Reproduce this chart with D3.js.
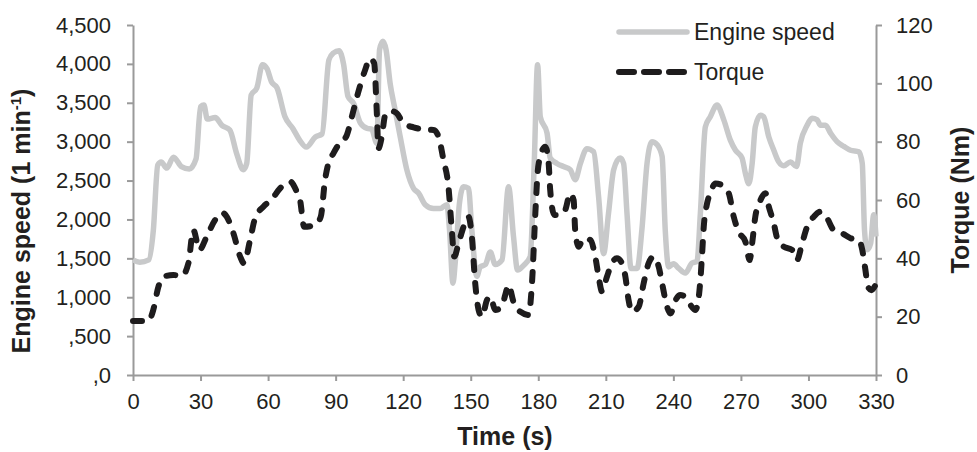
<!DOCTYPE html>
<html>
<head>
<meta charset="utf-8">
<script src="https://cdn.jsdelivr.net/npm/d3@7"></script>
<style>
body { margin: 0; background: #fff; }
text { font-family: Arial, "Liberation Sans", sans-serif; fill: #231f20; }
</style>
</head>
<body>
<svg id="chart" width="977" height="452"></svg>
<script>

// engine speed (1/min) over time (s)
var speedTime = [0, 3, 7, 9, 11, 12.5, 15, 18, 21.5, 25, 28, 30, 31.5, 33, 36.5, 39.5, 43, 46, 49, 50.5,
    52.5, 55, 57.5, 59.5, 61.5, 64, 67.5, 71, 74, 77, 81, 84, 87, 89, 91.5, 93.5, 95.5, 98, 101, 104,
    106, 108.3, 109.5, 111, 112.4, 114.2, 116.4, 118.7, 121.6, 124.6, 126.8, 129.8, 133.5, 136.4, 139.4, 140.6, 142.1, 143.1, 145, 146.8,
    149, 150.5, 152.7, 154.2, 156.5, 158.7, 160.9, 163.9, 166.8, 169, 170.8, 173.5, 176.4, 178.2, 179.7, 180.9, 183.9, 185.3, 188.3, 191.2,
    194.2, 196.4, 198.7, 201.6, 204.6, 206.8, 209, 211.2, 213.5, 216.4, 217.9, 219.4, 221.2, 223.9, 226, 228.3, 230.5, 232.8, 235, 236.4,
    237.9, 240.1, 242.4, 245.3, 248.3, 250.5, 252, 254.2, 256.4, 259.4, 262.4, 265.3, 267.6, 270.5, 272, 273.5, 275, 276.4, 278.7, 280.1,
    282.4, 284.6, 286.8, 289, 292, 294.7, 296.4, 299.4, 301.6, 303.9, 305.3, 307.6, 309.8, 312.7, 315.7, 318.7, 322.4, 323.9, 324.9, 326.1,
    327.6, 329, 330]
var speedValues = [1480, 1450, 1480, 1850, 2700, 2740, 2660, 2800, 2680, 2650, 2780, 3450, 3470, 3290, 3310, 3210, 3150, 2850, 2640, 2720,
    3600, 3690, 3990, 3940, 3770, 3690, 3320, 3170, 3020, 2930, 3060, 3100, 4050, 4140, 4170, 4000, 3580, 3490, 3240, 3170,
    3160, 2980, 4180, 4290, 4180, 3750, 3410, 3060, 2640, 2400, 2340, 2190, 2140, 2140, 2190, 1860, 1180, 1440, 2210, 2420,
    2400, 1860, 1270, 1390, 1420, 1580, 1420, 1480, 2420, 1780, 1350, 1410, 1520, 2720, 3990, 3320, 3110, 2790, 2720, 2680,
    2640, 2510, 2720, 2910, 2870, 2290, 1560, 2080, 2640, 2790, 2720, 2080, 1370, 1370, 1860, 2720, 3000, 2960, 2810, 1860,
    1390, 1430, 1370, 1310, 1440, 1460, 2080, 3190, 3320, 3470, 3280, 3020, 2890, 2790, 2590, 2460, 2720, 3190, 3340, 3320,
    3060, 2890, 2740, 2690, 2740, 2680, 2980, 3210, 3300, 3280, 3210, 3210, 3110, 3000, 2940, 2890, 2870, 2720, 1860, 1610,
    1690, 2060, 1780]

// torque (Nm) over time (s)
var torqueTime = [0, 6.8, 9, 11.3, 13.5, 17.9, 21.6, 24.6, 26.8, 29.5, 32.7, 36.4, 39.4, 41.6, 44.6, 47.6, 49.3, 52, 54.2, 57.9,
    61.6, 65.3, 69.8, 72.7, 74.2, 76, 80.9, 83.4, 85.3, 86.8, 89, 91.2, 95, 97.2, 100.1, 103.1, 105.3, 107.1, 108.3, 109,
    110.5, 112, 114.2, 117.2, 120.1, 124.6, 129, 133.5, 135.7, 137.9, 140.1, 141.6, 142.7, 144.6, 146.8, 149, 150.5, 152, 153.5, 155,
    157.2, 158.7, 160.9, 163.9, 165.3, 166.8, 169, 172, 175.7, 177.2, 178.7, 179.7, 180.9, 183.1, 184.6, 185.3, 187.1, 189.8, 192, 194.2,
    195.7, 196.4, 197.9, 200.1, 203.1, 205.3, 206.8, 208.3, 210.5, 212.7, 214.9, 217.2, 218.7, 220.1, 221.6, 224.6, 226.8, 229, 231.3, 233.5,
    235, 237.2, 238.7, 241, 243.1, 245.3, 247.6, 249.8, 251.3, 252, 252.7, 253.5, 255, 256.4, 258.7, 261.6, 264.6, 266.8, 269, 272,
    273.9, 275, 276.4, 278.7, 280.9, 282.4, 284.6, 286.1, 289, 292.7, 294.9, 297.2, 299.4, 302.4, 305.3, 308.3, 311.2, 314.9, 318.7, 322.4,
    323.9, 325.3, 326.4, 327.9, 329.8]
var torqueValues = [18.5, 18.5, 22.3, 30.3, 33.7, 34.3, 33.9, 38.3, 49.7, 42.9, 47.4, 53.1, 55.7, 54.3, 48.6, 40.6, 38.3, 46.3, 53.7, 57.7,
    60.2, 64, 66.3, 62.9, 60, 50.8, 51.4, 54.3, 66.9, 72.6, 76, 78.9, 82.3, 88.6, 97.1, 104.6, 108.6, 106.9, 89.7, 77.7,
    81.7, 89.1, 90.6, 89.7, 86.3, 84.9, 84.2, 84, 81.7, 73.7, 64.6, 49.7, 40.6, 45.2, 50.8, 54.3, 47.4, 31.4, 22.3, 20,
    25.7, 26.9, 22.3, 23.4, 27.4, 30.9, 25.1, 21.7, 20.6, 31.4, 55.4, 69.2, 74.9, 78.3, 72.6, 63.4, 54.9, 54.9, 56.6, 62.3,
    60, 49.7, 44, 46.9, 46.3, 40.6, 33.7, 28.6, 33.7, 38.3, 40, 38.3, 33.7, 25.7, 21.7, 23.4, 31.4, 38.3, 40.6, 37.1,
    31.4, 23.4, 21.1, 25.7, 27.4, 26.9, 24, 22.3, 26.9, 32.6, 40.6, 50.8, 58.9, 62.3, 65.7, 65.1, 62.3, 54.3, 49.1, 45.7,
    39.4, 45.2, 54.3, 60, 62.3, 57.7, 52, 46.9, 44, 42.9, 39.4, 45.2, 50.8, 54.3, 56, 53.7, 49.7, 48.6, 46.9, 46.3,
    42.9, 36, 30.3, 29.1, 30.9]

var timeTicks = [0, 30, 60, 90, 120, 150, 180, 210, 240, 270, 300, 330]
var speedTicks = [0, 500, 1000, 1500, 2000, 2500, 3000, 3500, 4000, 4500]
var speedTickLabels = [',0', ',500', '1,000', '1,500', '2,000', '2,500', '3,000', '3,500', '4,000', '4,500']
var torqueTicks = [0, 20, 40, 60, 80, 100, 120]
var seriesNames = ['Engine speed', 'Torque']

var layout = {
    left: 133, right: 876, top: 25, bottom: 375,
    axisColor: '#9a9a9a',
    speedColor: '#c8c9ca',
    torqueColor: '#1e1c1d'
}

var svg = d3.select('#chart')

var xScale = d3.scaleLinear().domain([0, 330]).range([layout.left, layout.right])
var ySpeed = d3.scaleLinear().domain([0, 4500]).range([layout.bottom, layout.top])
var yTorque = d3.scaleLinear().domain([0, 120]).range([layout.bottom, layout.top])

function styleAxis(g) {
    g.attr('font-family', null).attr('font-size', null)
    g.select('.domain').attr('stroke', layout.axisColor).attr('stroke-width', 2)
    g.selectAll('.tick line').attr('stroke', layout.axisColor).attr('stroke-width', 2)
    g.selectAll('.tick text').attr('fill', '#231f20').style('font-size', '22px')
}

svg.append('g')
    .attr('id', 'x-axis')
    .attr('transform', 'translate(0, ' + layout.bottom + ')')
    .call(d3.axisBottom(xScale).tickValues(timeTicks).tickSize(6).tickSizeOuter(0).tickPadding(12))
    .call(styleAxis)

svg.append('g')
    .attr('id', 'y-axis-left')
    .attr('transform', 'translate(' + layout.left + ', 0)')
    .call(d3.axisLeft(ySpeed).tickValues(speedTicks).tickSize(6).tickSizeOuter(0).tickPadding(16)
        .tickFormat(function (d, i) { return speedTickLabels[i] }))
    .call(styleAxis)

svg.append('g')
    .attr('id', 'y-axis-right')
    .attr('transform', 'translate(' + layout.right + ', 0)')
    .call(d3.axisRight(yTorque).tickValues(torqueTicks).tickSize(6).tickSizeOuter(0).tickPadding(14))
    .call(styleAxis)

// axis titles
svg.append('text')
    .attr('x', 505)
    .attr('y', 445)
    .attr('text-anchor', 'middle')
    .style('font-size', '25px')
    .style('font-weight', 'bold')
    .text('Time (s)')

var leftTitle = svg.append('text')
    .attr('transform', 'translate(30, 221) rotate(-90)')
    .attr('text-anchor', 'middle')
    .style('font-size', '25px')
    .style('font-weight', 'bold')
leftTitle.append('tspan').text('Engine speed (1 min')
leftTitle.append('tspan').attr('dy', -9).style('font-size', '15px').text('-1')
leftTitle.append('tspan').attr('dy', 9).text(')')

svg.append('text')
    .attr('transform', 'translate(969, 200) rotate(-90)')
    .attr('text-anchor', 'middle')
    .style('font-size', '25px')
    .style('font-weight', 'bold')
    .text('Torque (Nm)')

// series
var speedLine = d3.line()
    .x(function (d, i) { return xScale(speedTime[i]) })
    .y(function (d) { return ySpeed(d) })
    .curve(d3.curveMonotoneX)

var torqueLine = d3.line()
    .x(function (d, i) { return xScale(torqueTime[i]) })
    .y(function (d) { return yTorque(d) })
    .curve(d3.curveMonotoneX)

svg.append('path')
    .attr('class', 'speed')
    .attr('d', speedLine(speedValues))
    .attr('fill', 'none')
    .attr('stroke', layout.speedColor)
    .attr('stroke-width', 5.5)
    .attr('stroke-linejoin', 'round')

svg.append('path')
    .attr('class', 'torque')
    .attr('d', torqueLine(torqueValues))
    .attr('fill', 'none')
    .attr('stroke', layout.torqueColor)
    .attr('stroke-width', 6)
    .attr('stroke-dasharray', '9,13')
    .attr('stroke-linecap', 'round')
    .attr('stroke-linejoin', 'round')

// legend
var legend = svg.append('g').attr('id', 'legend')

var legendItems = legend.selectAll('g')
    .data(seriesNames)
    .enter()
    .append('g')
    .attr('transform', function (_, i) { return 'translate(619, ' + (32 + i * 40) + ')' })

legendItems.append('line')
    .attr('x1', 0)
    .attr('x2', 68)
    .attr('stroke', function (_, i) { return i === 0 ? layout.speedColor : layout.torqueColor })
    .attr('stroke-width', function (_, i) { return i === 0 ? 5.5 : 6 })
    .attr('stroke-dasharray', function (_, i) { return i === 0 ? null : '15,10' })
    .attr('stroke-linecap', 'round')

legendItems.append('text')
    .attr('x', 75)
    .attr('y', 8)
    .style('font-size', '23px')
    .text(function (d) { return d })

</script>
</body>
</html>
